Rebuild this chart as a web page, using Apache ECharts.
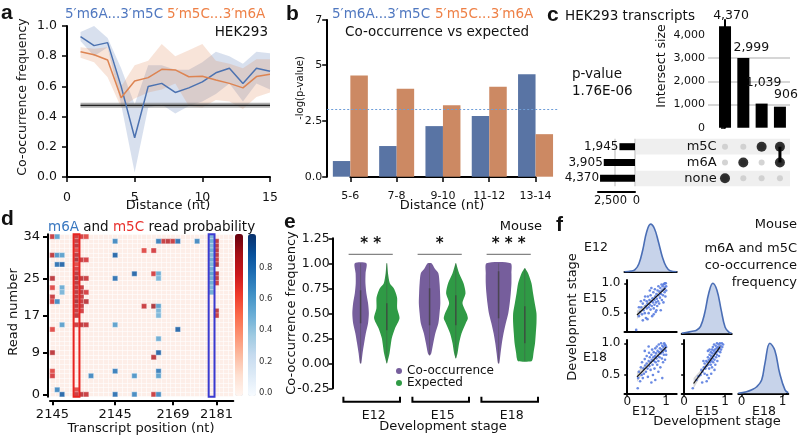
<!DOCTYPE html>
<html>
<head>
<meta charset="utf-8">
<script src="https://cdn.jsdelivr.net/npm/echarts@6/dist/echarts.min.js"></script>
<style>
  html, body { margin: 0; padding: 0; background: #fff; }
  #chart { width: 800px; height: 436px; }
</style>
</head>
<body>
<div id="chart"></div>
<script>
// ---------- panel a: co-occurrence frequency vs distance ----------
const aDist = [1, 2, 3, 4, 5, 6, 7, 8, 9, 10, 11, 12, 13, 14, 15];
const aM6aM5c = [0.93, 0.87, 0.89, 0.60, 0.26, 0.60, 0.62, 0.56, 0.59, 0.63, 0.69, 0.72, 0.62, 0.72, 0.70];
const aM6aM5cLow = [0.90, 0.80, 0.86, 0.48, 0.03, 0.46, 0.48, 0.42, 0.47, 0.50, 0.55, 0.62, 0.50, 0.62, 0.58];
const aM6aM5cHigh = [0.96, 1.00, 0.92, 0.72, 0.48, 0.74, 0.74, 0.71, 0.71, 0.76, 0.83, 0.80, 0.75, 0.83, 0.82];
const aM5cM6a = [0.83, 0.81, 0.775, 0.525, 0.636, 0.658, 0.713, 0.709, 0.664, 0.667, 0.642, 0.62, 0.59, 0.665, 0.68];
const aM5cM6aLow = [0.79, 0.76, 0.66, 0.46, 0.52, 0.56, 0.58, 0.62, 0.47, 0.46, 0.51, 0.50, 0.45, 0.53, 0.56];
const aM5cM6aHigh = [0.86, 0.85, 0.86, 0.60, 0.74, 0.77, 0.88, 0.80, 0.84, 0.88, 0.77, 0.75, 0.72, 0.78, 0.78];
const aExpectedX = [1, 15];
const aExpected = [0.475, 0.475];
const aExpectedLow = [0.458, 0.458];
const aExpectedHigh = [0.492, 0.492];

// ---------- panel b: -log(p) co-occurrence vs expected ----------
const bCats = ['5-6', '7-8', '9-10', '11-12', '13-14'];
const bM6aM5c = [0.70, 1.37, 2.26, 2.71, 4.58];
const bM5cM6a = [4.52, 3.93, 3.19, 4.02, 1.90];
const bThreshold = 3.0;

// ---------- panel c: upset plot ----------
const cIntersectSizes = [4370, 2999, 1039, 906];
const cIntersectSets = [['none'], ['m6A'], ['m5C'], ['m5C', 'm6A']];
const cSetNames = ['none', 'm6A', 'm5C'];
const cSetSizes = [4370, 3905, 1945];

// ---------- panel d: read-level heatmap ----------
const dNumCols = 38;
const dNumRows = 35;
const dTickCols = [0, 13, 25, 34];
const dTickLabels = ['2145', '2145', '2169', '2181'];
const dTickRows = [0, 9, 17, 25, 34];
const dBoxCols = [5, 33];
const dRedCells = [
  [0,34,0.8],[5,34,0.8],[6,34,0.75],[7,34,0.7],
  [5,33,0.8],[23,33,0.8],[24,33,0.85],[25,33,0.8],[34,33,0.85],
  [5,32,0.85],[34,32,0.85],
  [5,31,0.7],[19,31,0.7],[21,31,0.75],[34,31,0.85],
  [0,30,0.85],[5,30,0.85],[34,30,0.85],
  [5,29,0.9],[6,29,0.8],[7,29,0.75],[34,29,0.8],
  [5,28,0.7],[34,28,0.9],
  [5,27,0.75],
  [5,26,0.85],[21,26,0.75],[34,26,0.85],
  [0,25,0.85],[5,25,0.9],[6,25,0.85],[7,25,0.8],[34,25,0.85],
  [5,24,0.85],[34,24,0.8],
  [0,23,0.7],[5,23,0.85],[6,23,0.8],
  [5,22,0.85],[6,22,0.85],[7,22,0.75],
  [0,21,0.8],[5,21,0.85],[6,21,0.8],
  [0,20,0.75],[5,20,0.9],[6,20,0.8],[7,20,0.85],
  [5,19,0.85],[6,19,0.8],[19,19,0.8],[21,19,0.9],
  [5,18,0.8],[6,18,0.75],[34,18,0.85],
  [5,17,0.85],[34,17,0.8],
  [5,15,0.8],[6,15,0.85],[7,15,0.8],
  [0,14,0.7],[0,9,0.85],[21,8,0.85],[0,5,0.7],[0,4,0.75],
  [5,1,0.7],
  [5,0,0.8],[6,0,0.85],[7,0,0.8],[21,0,0.8]
];
const dBlueCells = [
  [1,34,0.6],[33,34,0.5],
  [13,33,0.7],[22,33,0.75],[26,33,0.8],[30,33,0.7],[33,33,0.55],
  [33,32,0.5],[33,31,0.55],
  [1,30,0.65],[2,30,0.6],[13,30,0.85],[33,30,0.5],
  [33,29,0.55],
  [1,28,0.8],[2,28,0.85],[33,28,0.5],
  [33,27,0.55],
  [17,26,0.85],[22,26,0.55],[33,26,0.6],
  [13,25,0.8],[22,25,0.5],[33,25,0.55],
  [33,24,0.55],
  [2,23,0.55],[33,23,0.5],
  [2,22,0.5],[33,22,0.55],
  [1,20,0.7],
  [22,19,0.6],[22,18,0.5],[22,17,0.5],
  [2,15,0.6],[13,15,0.6],
  [26,14,0.85],[22,12,0.55],[22,9,0.85],
  [13,5,0.75],[22,5,0.75],
  [8,4,0.7],[17,4,0.65],[22,4,0.6],
  [1,1,0.7],
  [2,0,0.85],[13,0,0.8],[17,0,0.7],[22,0,0.7]
];

// ---------- panel e: violins (y level, relative half width) ----------
const eStages = ['E12', 'E15', 'E18'];
const eCoShape = [
  [[1.0,0.44],[0.9,0.38],[0.8,0.37],[0.7,0.44],[0.6,0.57],[0.5,0.63],[0.4,0.57],[0.3,0.40],[0.2,0.27],[0.1,0.15],[0.0,0.05]],
  [[1.0,0.15],[0.95,0.38],[0.9,0.67],[0.8,0.76],[0.7,0.80],[0.6,0.82],[0.5,0.76],[0.4,0.67],[0.3,0.44],[0.2,0.28],[0.1,0.13],[0.08,0.04]],
  [[1.0,0.92],[0.9,0.98],[0.8,0.98],[0.7,0.93],[0.6,0.85],[0.5,0.74],[0.4,0.55],[0.3,0.38],[0.2,0.25],[0.1,0.15],[0.0,0.05]]
];
const eExpShape = [
  [[1.0,0.02],[0.9,0.09],[0.8,0.23],[0.75,0.53],[0.7,0.69],[0.65,0.79],[0.55,0.79],[0.45,0.97],[0.35,0.63],[0.25,0.38],[0.1,0.21],[0.0,0.02]],
  [[1.0,0.02],[0.9,0.25],[0.8,0.59],[0.7,0.74],[0.6,0.51],[0.5,0.82],[0.45,0.92],[0.4,0.76],[0.3,0.44],[0.2,0.25],[0.1,0.13],[0.05,0.02]],
  [[0.95,0.02],[0.9,0.25],[0.8,0.51],[0.7,0.63],[0.6,0.76],[0.5,0.89],[0.4,0.89],[0.3,0.84],[0.2,0.78],[0.1,0.66],[0.05,0.61],[0.02,0.51]]
];
const eCoIqr = [[0.40,0.73],[0.38,0.75],[0.45,0.92]];
const eExpIqr = [[0.33,0.60],[0.38,0.68],[0.20,0.57]];
const eStars = ['* *', '*', '* * *'];
const eSigY = 1.09;

// ---------- panel f: pair plot ----------
const fKdeE12X = [-0.07,0.1,0.2,0.3,0.4,0.5,0.6,0.7,0.8,0.9,1.0,1.1,1.27];
const fKdeE12Y = [0,0.03,0.1,0.4,1.1,2.0,2.38,2.15,1.5,0.75,0.25,0.05,0];
const fKdeE15X = [-0.06,0.1,0.2,0.3,0.4,0.5,0.6,0.7,0.8,0.9,1.0,1.1,1.16];
const fKdeE15Y = [0,0.06,0.1,0.15,0.35,1.0,2.0,2.5,2.15,1.2,0.3,0.05,0];
const fKdeE18X = [-0.08,0.12,0.25,0.37,0.49,0.57,0.69,0.81,0.93,1.06,1.14];
const fKdeE18Y = [0,0.08,0.18,0.33,0.67,1.5,2.5,2.15,1.0,0.17,0.03];
const fE12vE15 = [[0.23,0.22],[0.3,0.45],[0.33,0.52],[0.36,0.6],[0.38,0.48],[0.4,0.66],[0.42,0.55],[0.44,0.72],[0.45,0.5],[0.47,0.62],[0.48,0.42],[0.5,0.58],[0.5,0.7],[0.52,0.66],[0.53,0.78],[0.55,0.6],[0.55,0.5],[0.57,0.72],[0.58,0.64],[0.6,0.56],[0.6,0.8],[0.62,0.7],[0.63,0.62],[0.64,0.45],[0.65,0.75],[0.66,0.68],[0.67,0.85],[0.68,0.58],[0.7,0.72],[0.7,0.64],[0.71,0.9],[0.72,0.78],[0.73,0.52],[0.74,0.68],[0.75,0.82],[0.76,0.74],[0.77,0.62],[0.78,0.88],[0.79,0.7],[0.8,0.95],[0.8,0.8],[0.82,0.66],[0.83,0.86],[0.84,0.76],[0.85,0.92],[0.86,0.55],[0.87,0.82],[0.88,0.98],[0.89,0.72],[0.9,0.88],[0.91,0.95],[0.92,0.8],[0.93,0.68],[0.94,0.9],[0.95,0.99],[0.96,0.85],[0.97,0.93],[0.98,0.78],[0.99,1.0],[1.0,0.95],[1.0,0.88],[0.97,1.0],[0.93,0.98],[0.62,0.92],[0.58,0.88],[0.46,0.78],[0.4,0.38],[0.52,0.4],[0.68,0.48],[0.75,0.55],[0.35,0.7],[0.3,0.6]];
const fE12vE18 = [[0.27,0.29],[0.28,0.45],[0.3,0.55],[0.33,0.4],[0.35,0.62],[0.37,0.5],[0.38,0.7],[0.4,0.45],[0.42,0.6],[0.43,0.52],[0.45,0.75],[0.46,0.65],[0.48,0.55],[0.5,0.68],[0.5,0.8],[0.52,0.6],[0.53,0.47],[0.55,0.72],[0.56,0.85],[0.57,0.64],[0.58,0.78],[0.6,0.7],[0.6,0.58],[0.62,0.82],[0.63,0.74],[0.64,0.9],[0.65,0.66],[0.66,0.5],[0.67,0.78],[0.68,0.86],[0.69,0.72],[0.7,0.6],[0.71,0.8],[0.72,0.92],[0.73,0.7],[0.74,0.84],[0.75,0.76],[0.76,0.95],[0.77,0.66],[0.78,0.88],[0.79,0.8],[0.8,0.72],[0.81,0.98],[0.82,0.86],[0.83,0.78],[0.84,0.92],[0.85,0.62],[0.86,0.84],[0.87,1.0],[0.88,0.9],[0.89,0.76],[0.9,0.96],[0.91,0.86],[0.92,0.7],[0.93,0.94],[0.94,0.82],[0.95,1.0],[0.96,0.9],[0.97,0.74],[0.98,0.97],[0.99,0.88],[1.0,0.94],[1.0,0.82],[0.9,0.45],[0.8,0.55],[0.72,0.42],[0.62,0.38],[0.55,0.95],[0.45,0.88],[0.96,0.98]];
const fE15vE18 = [[0.21,0.29],[0.3,0.42],[0.35,0.48],[0.4,0.5],[0.42,0.58],[0.45,0.55],[0.48,0.62],[0.5,0.52],[0.5,0.68],[0.52,0.6],[0.54,0.72],[0.55,0.64],[0.56,0.5],[0.57,0.7],[0.58,0.78],[0.59,0.66],[0.6,0.74],[0.61,0.6],[0.62,0.82],[0.63,0.7],[0.64,0.76],[0.65,0.86],[0.65,0.66],[0.66,0.8],[0.67,0.72],[0.68,0.9],[0.68,0.62],[0.69,0.84],[0.7,0.76],[0.7,0.94],[0.71,0.7],[0.72,0.88],[0.72,0.8],[0.73,0.98],[0.74,0.74],[0.75,0.9],[0.75,0.84],[0.76,0.66],[0.77,0.96],[0.78,0.86],[0.78,0.78],[0.79,0.92],[0.8,1.0],[0.8,0.82],[0.81,0.72],[0.82,0.94],[0.83,0.88],[0.84,0.98],[0.85,0.8],[0.86,0.92],[0.87,1.0],[0.88,0.86],[0.89,0.96],[0.9,0.9],[0.92,1.0],[0.93,0.94],[0.95,0.98],[0.6,0.45],[0.66,0.52],[0.55,0.4],[0.74,0.58],[0.47,0.72],[0.44,0.38],[0.62,0.9],[0.58,0.88]];
const fFitE15vE12 = [[0.25,0.47],[0.98,0.92]];
const fFitE18vE12 = [[0.25,0.47],[1.0,0.94]];
const fFitE18vE15 = [[0.23,0.365],[0.88,0.946]];
const fCiE15vE12 = [[0.25,0.40,0.54],[0.45,0.58,0.64],[0.65,0.71,0.76],[0.85,0.83,0.89],[0.98,0.89,0.96]];
const fCiE18vE12 = [[0.25,0.39,0.55],[0.5,0.61,0.68],[0.75,0.77,0.82],[1.0,0.89,0.99]];
const fCiE18vE15 = [[0.23,0.28,0.45],[0.45,0.54,0.61],[0.65,0.73,0.78],[0.88,0.91,0.99]];

// ---------- styling helpers ----------
const F = 'DejaVu Sans';
const INK = '#111';
const BLUE = '#4c72b0', ORANGE = '#dd8452';
const PURPLE = '#765e9c', GREEN = '#2f9a45';
const DOT = '#5a7de0';
const axLine = { show: true, lineStyle: { color: '#000', width: 2 } };
const axTick = (len) => ({ show: true, length: len, lineStyle: { color: '#000', width: 1.5 } });
const lab = (size, extra) => Object.assign({ fontFamily: F, fontSize: size, color: INK }, extra || {});
const NONE = { show: false };
const comma = (v) => Number(v).toLocaleString('en-US');

function poly(xi, yi, pts, lo, hi, fill, opacity) {
  return {
    type: 'custom', xAxisIndex: xi, yAxisIndex: yi, silent: true, z: 1,
    data: pts.map((x, i) => [x, lo[i], hi[i]]),
    renderItem: (p, api) => {
      if (p.dataIndex !== 0) return null;
      const up = pts.map((x, i) => api.coord([x, hi[i]]));
      const dn = pts.map((x, i) => api.coord([x, lo[i]])).reverse();
      return { type: 'polygon', shape: { points: up.concat(dn) }, style: { fill, opacity } };
    }
  };
}

const grid = [
  { left: 67, top: 26, width: 203, height: 151 },          // 0 a
  { left: 327.2, top: 20, width: 231.5, height: 156.7 },   // 1 b bars
  { left: 350.3, top: 176, width: 185.2, height: 1 },      // 2 b trimmed x axis
  { left: 708, top: 20, width: 82, height: 107.7 },        // 3 c bars
  { left: 636, top: 138.8, width: 154, height: 47.4 },     // 4 c matrix
  { left: 598, top: 138.8, width: 37, height: 47.4 },      // 5 c set sizes
  { left: 50, top: 234.3, width: 183.3, height: 162.4, show: true, backgroundColor: '#fdeee8', borderWidth: 0 }, // 6 d
  { left: 248, top: 236, width: 8, height: 156.7 },        // 7 d colorbar ticks
  { left: 339.2, top: 238.3, width: 207, height: 150 },    // 8 e
  { left: 624.5, top: 219.7, width: 52.2, height: 52 },    // 9 f diag E12
  { left: 681.7, top: 281.3, width: 50, height: 52 },      // 10 f diag E15
  { left: 738.3, top: 341.3, width: 50, height: 52 },      // 11 f diag E18
  { left: 624.5, top: 280, width: 52.2, height: 51.7 },    // 12 f E15 vs E12
  { left: 624.5, top: 340, width: 52.2, height: 53.3 },    // 13 f E18 vs E12
  { left: 681.7, top: 340, width: 50, height: 53.3 }       // 14 f E18 vs E15
];

const fx12 = { min: -0.07, max: 1.27 }, fx15 = { min: -0.06, max: 1.16 }, fx18 = { min: -0.08, max: 1.14 };
function fX(gi, range, labels) {
  return {
    type: 'value', gridIndex: gi, min: range.min, max: range.max,
    axisLine: axLine,
    axisTick: labels ? { show: true, length: 3, customValues: [0, 1], lineStyle: { color: '#000', width: 1.5 } } : NONE,
    axisLabel: labels ? lab(12, { customValues: [0, 1], margin: 3 }) : NONE,
    splitLine: NONE
  };
}
function fY(gi, range, labels) {
  return {
    type: 'value', gridIndex: gi, min: range.min, max: range.max,
    axisLine: axLine,
    axisTick: { show: true, length: 3, customValues: [0.5, 1.0], lineStyle: { color: '#000', width: 1.5 } },
    axisLabel: labels ? lab(12, { customValues: [0.5, 1.0], margin: 4, formatter: (v) => v.toFixed(1) }) : NONE,
    splitLine: NONE
  };
}
const diagY = (gi) => ({ type: 'value', gridIndex: gi, min: 0, max: 2.6, show: false });

const xAxis = [
  { type: 'value', gridIndex: 0, min: 0, max: 15, interval: 5, offset: 6, axisLine: axLine, axisTick: axTick(5), axisLabel: lab(12.5), splitLine: NONE },
  { type: 'category', gridIndex: 1, data: bCats, show: false },
  { type: 'value', gridIndex: 2, min: 0, max: bCats.length - 1, interval: 1, offset: 6, axisLine: axLine, axisTick: axTick(5),
    axisLabel: lab(11, { formatter: (v) => bCats[v] }), splitLine: NONE },
  { type: 'value', gridIndex: 3, min: -0.93, max: 3.55, show: false },
  { type: 'value', gridIndex: 4, min: -4.86, max: 3.55, show: false },
  { type: 'value', gridIndex: 5, min: 0, max: 4625, interval: 2500, inverse: true, offset: 6, axisLine: axLine, axisTick: NONE,
    axisLabel: lab(11.5, { margin: 3, showMinLabel: true, showMaxLabel: false,
      formatter: (v) => (v === 0 ? '{z|0}' : '{n|' + comma(v) + '}'),
      rich: { z: { padding: [0, 0, 0, 3], fontFamily: F, fontSize: 11.5, color: INK },
              n: { padding: [0, 9, 0, 0], fontFamily: F, fontSize: 11.5, color: INK } } }),
    splitLine: { show: true, showMinLine: true, showMaxLine: false, lineStyle: { color: '#cfcfcf', width: 1.5 } } },
  { type: 'category', gridIndex: 6, data: Array.from({ length: dNumCols }, (_, i) => String(i)), offset: 3.6,
    axisLine: axLine,
    axisTick: { show: true, length: 5, alignWithLabel: true, interval: (i) => dTickCols.includes(i), lineStyle: { color: '#000', width: 2 } },
    axisLabel: lab(13, { interval: (i) => dTickCols.includes(i), formatter: (v, i) => dTickLabels[dTickCols.indexOf(i)] || '' }),
    splitLine: { show: true, interval: 0, lineStyle: { color: '#ffffff', width: 0.6 } } },
  { type: 'value', gridIndex: 7, show: false, min: 0, max: 1 },
  { type: 'category', gridIndex: 8, data: eStages, axisLine: NONE, axisTick: NONE, axisLabel: lab(12.5, { margin: 21 }) },
  fX(9, fx12, false), fX(10, fx15, false), fX(11, fx18, true),
  fX(12, fx12, false), fX(13, fx12, true), fX(14, fx15, true)
];

const yAxis = [
  { type: 'value', gridIndex: 0, min: 0, max: 1, interval: 0.2, offset: 2, axisLine: axLine, axisTick: axTick(5),
    axisLabel: lab(12.5, { formatter: (v) => v.toFixed(1) }), splitLine: NONE },
  { type: 'value', gridIndex: 1, min: 0, max: 7, interval: 2.5, axisLine: axLine, axisTick: axTick(5),
    axisLabel: lab(11, { formatter: (v) => (v === 0 ? '0.0' : String(v)), margin: 5 }), splitLine: NONE },
  { type: 'value', gridIndex: 2, show: false },
  { type: 'value', gridIndex: 3, min: 0, max: 4642, axisLine: axLine,
    axisTick: { show: true, length: 4, customValues: [0, 1000, 2000, 3000, 4000], lineStyle: { color: '#000', width: 1.5 } },
    axisLabel: lab(11, { customValues: [0, 1000, 2000, 3000, 4000], formatter: comma, margin: 3 }),
    splitLine: { show: true, customValues: [1000, 2000, 3000, 4000], showMinLine: false, showMaxLine: false, lineStyle: { color: '#d6d6d6', width: 2 } } },
  { type: 'category', gridIndex: 4, data: cSetNames, axisLine: NONE, axisTick: { show: false, interval: 0 },
    axisLabel: lab(13, { margin: -80.7, interval: 0 }),
    splitArea: { show: true, interval: 0, areaStyle: { color: ['#efefef', '#ffffff'] } } },
  { type: 'category', gridIndex: 5, data: cSetNames, show: false },
  { type: 'category', gridIndex: 6, data: Array.from({ length: dNumRows }, (_, i) => String(i)), offset: 2,
    axisLine: axLine,
    axisTick: { show: true, length: 5, alignWithLabel: true, interval: (i) => dTickRows.includes(i), lineStyle: { color: '#000', width: 2 } },
    axisLabel: lab(13, { interval: (i) => dTickRows.includes(i) }),
    splitLine: { show: true, interval: 0, lineStyle: { color: '#ffffff', width: 0.6 } } },
  { type: 'value', gridIndex: 7, position: 'right', min: 0, max: 1, interval: 0.2, axisLine: NONE,
    axisTick: { show: true, length: 2, lineStyle: { color: '#333' } },
    axisLabel: { fontFamily: F, fontSize: 8.5, color: '#333', margin: 3, showMaxLabel: false, formatter: (v) => v.toFixed(1) },
    splitLine: NONE },
  { type: 'value', gridIndex: 8, min: -0.25, max: 1.25, interval: 0.25, offset: 6.5, axisLine: axLine, axisTick: axTick(4),
    axisLabel: lab(12.5, { formatter: (v) => v.toFixed(2), margin: 3 }), splitLine: NONE },
  diagY(9), diagY(10), diagY(11),
  fY(12, { min: 0.19, max: 1.055 }, true),
  fY(13, { min: 0.21, max: 1.052 }, true),
  fY(14, { min: 0.21, max: 1.052 }, false)
];

const series = [];

// a
series.push(poly(0, 0, aDist, aM6aM5cLow, aM6aM5cHigh, BLUE, 0.22));
series.push(poly(0, 0, aDist, aM5cM6aLow, aM5cM6aHigh, ORANGE, 0.22));
series.push(poly(0, 0, aExpectedX, aExpectedLow, aExpectedHigh, '#7a7a7a', 0.6));
series.push({ type: 'line', xAxisIndex: 0, yAxisIndex: 0, data: aExpectedX.map((x, i) => [x, aExpected[i]]),
  showSymbol: false, silent: true, lineStyle: { color: '#222', width: 1.2 } });
series.push({ type: 'line', xAxisIndex: 0, yAxisIndex: 0, data: aDist.map((x, i) => [x, aM6aM5c[i]]),
  showSymbol: false, silent: true, lineStyle: { color: BLUE, width: 1.5 }, z: 3 });
series.push({ type: 'line', xAxisIndex: 0, yAxisIndex: 0, data: aDist.map((x, i) => [x, aM5cM6a[i]]),
  showSymbol: false, silent: true, lineStyle: { color: ORANGE, width: 1.5 }, z: 3 });

// b
series.push({ type: 'bar', xAxisIndex: 1, yAxisIndex: 1, data: bM6aM5c, barWidth: 17.5, barGap: '0%', silent: true,
  itemStyle: { color: '#5974a4' },
  markLine: { silent: true, symbol: 'none', label: { show: false }, lineStyle: { type: [2, 2], color: '#6f9ed8', width: 1 },
    data: [{ yAxis: bThreshold }] } });
series.push({ type: 'bar', xAxisIndex: 1, yAxisIndex: 1, data: bM5cM6a, barWidth: 17.5, barGap: '0%', silent: true,
  itemStyle: { color: '#cc8963' } });

// c
const cLabelOffsets = [[6, -2], [8, -2], [2, -12], [6, -3]];
series.push({ type: 'bar', xAxisIndex: 3, yAxisIndex: 3, barWidth: 12, silent: true,
  data: cIntersectSizes.map((v, i) => ({ value: [i, v], label: { offset: cLabelOffsets[i] } })),
  itemStyle: { color: '#000' },
  label: { show: true, position: 'top', distance: 2, formatter: (p) => comma(p.value[1]), fontFamily: F, fontSize: 12.5, color: INK } });
series.push({ type: 'scatter', xAxisIndex: 4, yAxisIndex: 4, silent: true, symbolSize: 6, itemStyle: { color: '#c9c9c9' },
  data: cIntersectSizes.flatMap((_, c) => cSetNames.map((s) => [c, s])) });
cIntersectSets.forEach((sets, c) => {
  if (sets.length > 1) {
    series.push({ type: 'line', xAxisIndex: 4, yAxisIndex: 4, silent: true, showSymbol: false, z: 3,
      lineStyle: { color: '#000', width: 3 }, data: sets.map((s) => [c, s]) });
  }
});
series.push({ type: 'scatter', xAxisIndex: 4, yAxisIndex: 4, silent: true, symbolSize: 10, z: 4, itemStyle: { color: '#000' },
  data: cIntersectSets.flatMap((sets, c) => sets.map((s) => [c, s])) });
series.push({ type: 'bar', xAxisIndex: 5, yAxisIndex: 5, data: cSetSizes, barWidth: 7, silent: true, z: 3,
  itemStyle: { color: '#000' },
  label: { show: true, position: 'left', distance: 1, formatter: (p) => comma(p.value), fontFamily: F, fontSize: 12, color: INK } });

// d
const dRedIdx = series.length;
series.push({ type: 'heatmap', xAxisIndex: 6, yAxisIndex: 6, data: dRedCells, silent: true,
  itemStyle: { borderColor: '#fff', borderWidth: 0.5, opacity: 0.78 } });
const dBlueIdx = series.length;
series.push({ type: 'heatmap', xAxisIndex: 6, yAxisIndex: 6, data: dBlueCells, silent: true,
  itemStyle: { borderColor: '#fff', borderWidth: 0.5, opacity: 0.85 } });
const dBoxColors = ['#e8231f', '#3b3bd0'];
series.push({ type: 'custom', xAxisIndex: 6, yAxisIndex: 6, silent: true, z: 5,
  data: dBoxCols.map((c) => [c, 0]),
  renderItem: (p, api) => {
    const col = api.value(0);
    const lo = api.coord([col, 0]);
    const hi = api.coord([col, dNumRows - 1]);
    const sz = api.size([1, 1]);
    return { type: 'rect', shape: { x: lo[0] - sz[0] / 2 - 0.5, y: hi[1] - sz[1] / 2, width: sz[0] + 1, height: lo[1] - hi[1] + sz[1] },
      style: { fill: 'none', stroke: dBoxColors[p.dataIndex], lineWidth: 2 } };
  } });

// e
function violin(shapes, iqr, side, color) {
  return (p, api) => {
    const i = api.value(0);
    const v = shapes[i];
    const bw = api.size([1, 0])[0];
    const cx = api.coord([i, 0])[0] + side * bw * 0.19;
    const s = bw * 0.19;
    const right = v.map(([y, d]) => [cx + d * s, api.coord([i, y])[1]]);
    const left = v.slice().reverse().map(([y, d]) => [cx - d * s, api.coord([i, y])[1]]);
    const yTop = api.coord([i, v[0][0]])[1], yBot = api.coord([i, v[v.length - 1][0]])[1];
    return { type: 'group', children: [
      { type: 'polygon', shape: { points: right.concat(left), smooth: 0.25 }, style: { fill: color } },
      { type: 'line', shape: { x1: cx, y1: yTop, x2: cx, y2: yBot }, style: { stroke: '#4a4a4a', lineWidth: 0.6, opacity: 0.7 } },
      { type: 'line', shape: { x1: cx, y1: api.coord([i, iqr[i][1]])[1], x2: cx, y2: api.coord([i, iqr[i][0]])[1] },
        style: { stroke: '#3e3e3e', lineWidth: 1.6, opacity: 0.65 } }
    ] };
  };
}
series.push({ type: 'custom', name: 'Co-occurrence', xAxisIndex: 8, yAxisIndex: 8, silent: true, itemStyle: { color: PURPLE },
  data: eStages.map((_, i) => [i, 0.5]), renderItem: violin(eCoShape, eCoIqr, -1, PURPLE) });
series.push({ type: 'custom', name: 'Expected', xAxisIndex: 8, yAxisIndex: 8, silent: true, itemStyle: { color: GREEN },
  data: eStages.map((_, i) => [i, 0.5]), renderItem: violin(eExpShape, eExpIqr, 1, GREEN) });
series.push({ type: 'custom', xAxisIndex: 8, yAxisIndex: 8, silent: true,
  data: eStages.map((_, i) => [i, -0.25]),
  renderItem: (p, api) => {
    const c = api.coord([api.value(0), -0.25]);
    const h = api.size([1, 0])[0] * 0.41;
    const x0 = c[0] - 2, yb = c[1] + 13.4;
    return { type: 'polyline', shape: { points: [[x0 - h, yb - 5], [x0 - h, yb], [x0 + h, yb], [x0 + h, yb - 5]] },
      style: { stroke: '#000', lineWidth: 2, fill: null } };
  } });
series.push({ type: 'custom', xAxisIndex: 8, yAxisIndex: 8, silent: true,
  data: eStages.map((_, i) => [i, eSigY]),
  renderItem: (p, api) => {
    const c = api.coord([api.value(0), eSigY]);
    const h = api.size([1, 0])[0] * 0.32;
    const x0 = c[0] - 3;
    return { type: 'group', children: [
      { type: 'line', shape: { x1: x0 - h, y1: c[1], x2: x0 + h, y2: c[1] }, style: { stroke: '#666', lineWidth: 1 } },
      { type: 'text', style: { text: eStars[p.dataIndex], x: x0, y: c[1] - 3, align: 'center', verticalAlign: 'bottom',
        fontFamily: F, fontSize: 15, fontWeight: 'bold', fill: '#111' } }
    ] };
  } });

// f
const kde = (gi, xs, ys) => ({ type: 'line', xAxisIndex: gi, yAxisIndex: gi, silent: true, showSymbol: false, smooth: 0.4,
  data: xs.map((x, i) => [x, ys[i]]), lineStyle: { color: '#4a6eb5', width: 1.6 }, areaStyle: { color: '#c7d3ea', opacity: 1 } });
series.push(kde(9, fKdeE12X, fKdeE12Y), kde(10, fKdeE15X, fKdeE15Y), kde(11, fKdeE18X, fKdeE18Y));
function fitPanel(gi, pts, fit, ci) {
  series.push(poly(gi, gi, ci.map((r) => r[0]), ci.map((r) => r[1]), ci.map((r) => r[2]), '#b5b5b5', 0.55));
  series.push({ type: 'scatter', xAxisIndex: gi, yAxisIndex: gi, silent: true, data: pts, symbolSize: 2.6,
    itemStyle: { color: DOT, opacity: 0.9 } });
  series.push({ type: 'line', xAxisIndex: gi, yAxisIndex: gi, silent: true, showSymbol: false, data: fit, z: 4,
    lineStyle: { color: '#111', width: 1.2 } });
}
fitPanel(12, fE12vE15, fFitE15vE12, fCiE15vE12);
fitPanel(13, fE12vE18, fFitE18vE12, fCiE18vE12);
fitPanel(14, fE15vE18, fFitE18vE15, fCiE18vE15);

// ---------- text ----------
function T(x, y, text, o) {
  o = o || {};
  return { type: 'text', x, y, rotation: o.rot || 0, silent: true, z: 100,
    style: { text, fill: o.color || INK, fontSize: o.size || 13, fontFamily: o.family || F, fontWeight: o.weight || 'normal',
      align: o.align || 'left', verticalAlign: 'middle', rich: o.rich } };
}
const LET = { size: 21, weight: 'bold', family: 'Liberation Sans' };
const V = Math.PI / 2;
const graphic = [
  T(1, 13, 'a', LET), T(286, 14, 'b', LET), T(547, 15, 'c', LET),
  T(1, 219, 'd', LET), T(284, 222, 'e', LET), T(556, 225, 'f', LET),
  // a
  T(65, 14, '5′m6A...3′m5C', { color: '#5078c0', size: 13.5 }),
  T(167, 14, '5′m5C...3′m6A', { color: '#ee8046', size: 13.5 }),
  T(268, 32, 'HEK293', { size: 13.5, align: 'right' }),
  T(23, 97, 'Co-occurrence frequency', { rot: V, align: 'center', size: 12.5 }),
  T(168, 206, 'Distance (nt)', { align: 'center' }),
  // b
  T(332, 14, '5′m6A...3′m5C', { color: '#5078c0', size: 13.5 }),
  T(435, 14, '5′m5C...3′m6A', { color: '#ee8046', size: 13.5 }),
  T(345, 32, 'Co-occurrence vs expected', { size: 13.5 }),
  T(300, 88, '-log(p-value)', { rot: V, align: 'center', size: 10 }),
  T(442, 206, 'Distance (nt)', { align: 'center' }),
  // c
  T(565, 16, 'HEK293 transcripts', { size: 13.5 }),
  T(572, 74, 'p-value', { size: 13.5 }),
  T(572, 91, '1.76E-06', { size: 13.5 }),
  T(662, 66, 'Intersect size', { rot: V, align: 'center', size: 12.5 }),
  // d
  T(48, 227, '{b|m6A} and {r|m5C} read probability', { size: 13.5,
    rich: { b: { fill: '#3a78c0', fontSize: 13.5, fontFamily: F }, r: { fill: '#e8322e', fontSize: 13.5, fontFamily: F } } }),
  T(14, 312, 'Read number', { rot: V, align: 'center' }),
  T(141, 429, 'Transcript position (nt)', { align: 'center' }),
  // e
  T(292, 313, 'Co-occurrence frequency', { rot: V, align: 'center' }),
  T(443, 427, 'Development stage', { align: 'center' }),
  T(542, 227, 'Mouse', { align: 'right' }),
  // f
  T(797, 225, 'Mouse', { align: 'right' }),
  T(797, 249, 'm6A and m5C', { align: 'right' }),
  T(797, 266, 'co-occurrence', { align: 'right' }),
  T(797, 283, 'frequency', { align: 'right' }),
  T(596, 248, 'E12', { align: 'center', size: 12.5 }),
  T(595, 299, 'E15', { align: 'center', size: 12.5 }),
  T(595, 358, 'E18', { align: 'center', size: 12.5 }),
  T(644, 412, 'E12', { align: 'center', size: 12.5 }),
  T(707, 412, 'E15', { align: 'center', size: 12.5 }),
  T(764, 412, 'E18', { align: 'center', size: 12.5 }),
  T(573, 317, 'Development stage', { rot: V, align: 'center' }),
  T(717, 422, 'Development stage', { align: 'center' })
];

const chart = echarts.init(document.getElementById('chart'), null, { renderer: 'canvas' });
chart.setOption({
  animation: false,
  backgroundColor: '#fff',
  grid, xAxis, yAxis, series, graphic,
  legend: { data: ['Co-occurrence', 'Expected'], left: 396, top: 365, orient: 'vertical', icon: 'circle',
    itemWidth: 6, itemHeight: 6, itemGap: 0, padding: 0, textStyle: { fontFamily: F, fontSize: 12, color: INK } },
  visualMap: [
    { type: 'continuous', seriesIndex: dRedIdx, dimension: 2, min: 0, max: 1, calculable: false, padding: 0,
      left: 235, top: 234, itemWidth: 8, itemHeight: 162, orient: 'vertical',
      inRange: { color: ['#fff5f0', '#fee0d2', '#fcbba1', '#fc9272', '#fb6a4a', '#ef3b2c', '#cb181d', '#a50f15', '#67000d'] } },
    { type: 'continuous', seriesIndex: dBlueIdx, dimension: 2, min: 0, max: 1, calculable: false, padding: 0,
      left: 248, top: 234, itemWidth: 8, itemHeight: 162, orient: 'vertical',
      inRange: { color: ['#f7fbff', '#deebf7', '#c6dbef', '#9ecae1', '#6baed6', '#4292c6', '#2171b5', '#08519c', '#08306b'] } }
  ]
});
</script>
</body>
</html>
